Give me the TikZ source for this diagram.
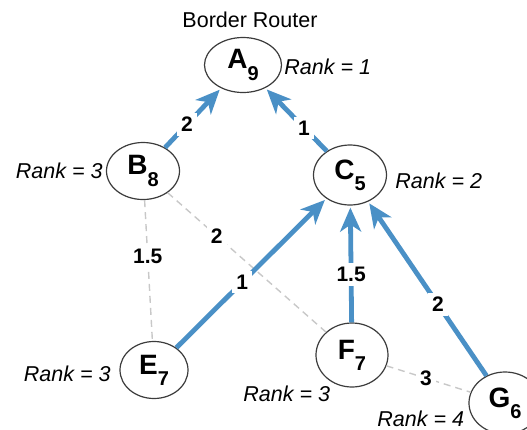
\documentclass[tikz,border=0pt]{standalone}
\usepackage{fontspec}
\setmainfont{Liberation Sans}
\usetikzlibrary{shapes.geometric,arrows.meta}
\definecolor{rplblue}{RGB}{74,144,198}
\definecolor{linkgray}{RGB}{200,200,200}
\definecolor{ringgray}{RGB}{60,60,60}
\newcommand\rsub[1]{\raisebox{-0.4em}{\fontsize{10}{10}\selectfont #1}}
\begin{document}
\begin{tikzpicture}[x=0.5pt,y=-0.5pt,
  router/.style={ellipse, draw=ringgray, line width=0.6pt, fill=white, inner sep=0pt,
    font=\fontsize{14}{14}\selectfont\bfseries},
  tree/.style={draw=rplblue, line width=2.4pt,
    -{Stealth[length=12pt,width=10.5pt,inset=3.5pt]}, shorten >=1pt},
  link/.style={draw=linkgray, line width=0.7pt, dash pattern=on 3.5pt off 2.5pt},
  lbl/.style={fill=white, inner sep=2pt, text=black,
    font=\fontsize{10.5}{10.5}\selectfont\bfseries},
  rank/.style={inner sep=0pt, font=\fontsize{10.75}{11}\selectfont\itshape},
  plain/.style={inner sep=0pt, font=\fontsize{10.75}{11}\selectfont}
]
\useasboundingbox (0,0) rectangle (527,430);

\node[router, minimum width=38.5pt, minimum height=27.5pt] (A) at (243,65) {A\rsub{9}};
\node[router, minimum width=36.5pt, minimum height=28.5pt] (B) at (143,171) {B\rsub{8}};
\node[router, minimum width=36.5pt, minimum height=30pt] (C) at (350,175) {C\rsub{5}};
\node[router, minimum width=34pt, minimum height=28.5pt] (E) at (154,370) {E\rsub{7}};
\node[router, minimum width=36pt, minimum height=32pt] (F) at (352,355) {F\rsub{7}};
\node[router, minimum width=36pt, minimum height=31pt] (G) at (505,403) {G\rsub{6}};

% dashed candidate links
\draw[link] (B) -- node[lbl, pos=0.40] {1.5} (E);
\draw[link] (B) -- node[lbl, pos=0.31] {2} (F);
\draw[link] (F) -- node[lbl, pos=0.47] {3} (G);

% preferred parent links
\draw[tree] (B) -- node[lbl, pos=0.39] {2} (A);
\draw[tree] (C) -- node[lbl, pos=0.37] {1} (A);
\draw[tree] (E) -- node[lbl, pos=0.44] {1} (C);
\draw[tree] (F) -- node[lbl, pos=0.41] {1.5} (C);
\draw[tree] (G) -- node[lbl, pos=0.41] {2} (C);

% texts
\node[plain] (br) at (250,20) {Border Router};
\node[rank, anchor=west] (rA) at (284,67) {Rank = 1};
\node[rank, anchor=east] (rB) at (103,171) {Rank = 3};
\node[rank, anchor=west] (rC) at (395,181) {Rank = 2};
\node[rank, anchor=east] (rE) at (111,374) {Rank = 3};
\node[rank, anchor=west] (rF) at (243,394) {Rank = 3};
\node[rank, anchor=west] (rG) at (377,419) {Rank = 4};
\end{tikzpicture}
\end{document}
